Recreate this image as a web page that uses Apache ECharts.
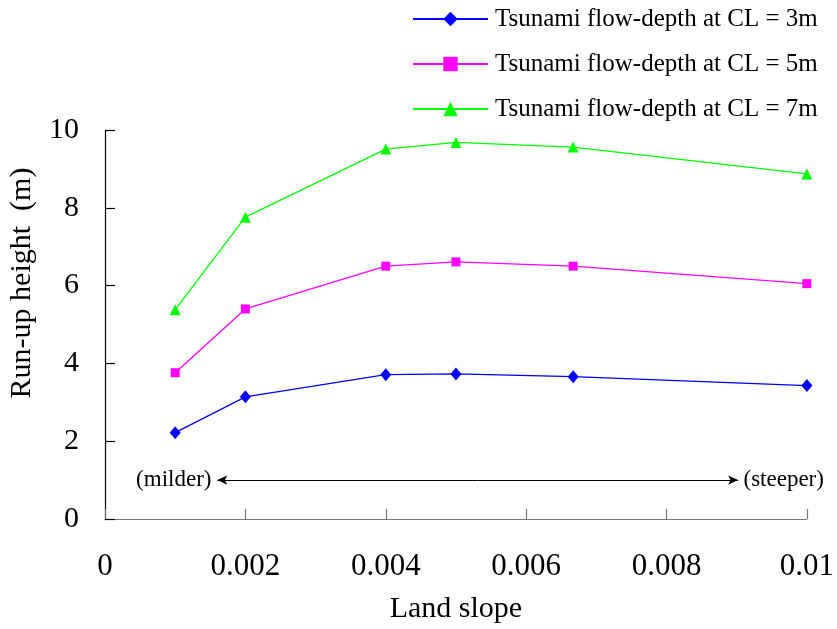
<!DOCTYPE html>
<html>
<head>
<meta charset="utf-8">
<script src="https://cdn.jsdelivr.net/npm/echarts@6/dist/echarts.min.js"></script>
<style>
html,body{margin:0;padding:0;background:#fff;}
#chart{width:837px;height:629px;}
</style>
</head>
<body>
<div id="chart"></div>
<script>
// ---- data ----
const slopes = [0.001, 0.002, 0.004, 0.005, 0.00667, 0.01];
const seriesNames = [
  'Tsunami flow-depth at CL = 3m',
  'Tsunami flow-depth at CL = 5m',
  'Tsunami flow-depth at CL = 7m'
];
const runup3m = [2.22, 3.14, 3.71, 3.73, 3.66, 3.43];
const runup5m = [3.76, 5.40, 6.50, 6.61, 6.50, 6.05];
const runup7m = [5.38, 7.76, 9.51, 9.68, 9.56, 8.87];
const xTickLabels = ['0', '0.002', '0.004', '0.006', '0.008', '0.01'];
const yTickLabels = ['0', '2', '4', '6', '8', '10'];
// annotation (data coordinates)
const arrowY = 1.0;
const arrowFrom = 0.0016;
const arrowTo = 0.00902;
const milderText = '(milder)';
const steeperText = '(steeper)';
const milderX = 0.00098;
const steeperX = 0.00967;

const FONT = '"Liberation Serif", "Times New Roman", serif';
const colors = ['#0000FF', '#FF00FF', '#00FF00'];
const symbols = ['diamond', 'rect', 'triangle'];
const symbolSizes = [[11, 13], 9, 11];
const values = [runup3m, runup5m, runup7m];

function pairs(ys) { return slopes.map((x, i) => [x, ys[i]]); }

const series = values.map((ys, k) => {
  const s = {
    name: seriesNames[k],
    type: 'line',
    data: pairs(ys),
    symbol: symbols[k],
    symbolSize: symbolSizes[k],
    showAllSymbol: true,
    lineStyle: { color: colors[k], width: 1.3 },
    itemStyle: { color: colors[k] },
    emphasis: { disabled: true },
    animation: false,
    z: 3
  };
  if (k === 0) {
    s.markLine = {
      silent: true,
      animation: false,
      symbol: ['arrow', 'arrow'],
      symbolSize: [7, 10],
      lineStyle: { color: '#000', width: 1, type: 'solid' },
      label: { show: false },
      data: [[{ coord: [arrowFrom, arrowY] }, { coord: [arrowTo, arrowY] }]]
    };
    s.markPoint = {
      silent: true,
      animation: false,
      symbol: 'circle',
      symbolSize: 0,
      itemStyle: { color: 'rgba(0,0,0,0)' },
      label: {
        show: true, position: 'inside', color: '#000',
        fontFamily: FONT, fontSize: 23
      },
      data: [
        { coord: [milderX, arrowY], label: { formatter: milderText } },
        { coord: [steeperX, arrowY], label: { formatter: steeperText } }
      ]
    };
  }
  return s;
});

const chart = echarts.init(document.getElementById('chart'), null, { renderer: 'canvas' });
chart.setOption({
  backgroundColor: '#fff',
  animation: false,
  grid: { left: 105, right: 27.7, top: 130, bottom: 108, containLabel: false },
  legend: {
    orient: 'vertical',
    left: 407,
    top: 0,
    itemWidth: 75,
    itemHeight: 18,
    itemGap: 17,
    selectedMode: false,
    textStyle: { color: '#000', fontFamily: FONT, fontSize: 25, lineHeight: 28, padding: [0, 0, 0, 2] },
    data: seriesNames
  },
  xAxis: {
    type: 'value',
    min: 0, max: 0.01, interval: 0.002,
    name: 'Land slope',
    nameLocation: 'middle',
    nameGap: 90,
    nameTextStyle: { color: '#000', fontFamily: FONT, fontSize: 30, verticalAlign: 'middle' },
    axisLine: { show: true, lineStyle: { color: '#777', width: 1.2 } },
    axisTick: { show: true, inside: true, length: 10, lineStyle: { color: '#777', width: 1.2 } },
    splitLine: { show: false },
    axisLabel: {
      color: '#000', fontFamily: FONT, fontSize: 31, margin: 32,
      formatter: (v, i) => xTickLabels[i]
    }
  },
  yAxis: {
    type: 'value',
    min: 0, max: 10, interval: 2,
    axisLine: { show: true, lineStyle: { color: '#000', width: 1.2 } },
    axisTick: { show: true, inside: true, length: 10, lineStyle: { color: '#000', width: 1.2 } },
    splitLine: { show: false },
    axisLabel: {
      color: '#000', fontFamily: FONT, fontSize: 30, margin: 26,
      formatter: (v, i) => yTickLabels[i]
    }
  },
  graphic: [{
    type: 'text',
    x: 22, y: 283,
    rotation: Math.PI / 2,
    style: {
      text: 'Run-up height  (m)',
      fill: '#000',
      font: '30px ' + FONT,
      textAlign: 'center',
      textVerticalAlign: 'middle'
    },
    silent: true
  }],
  series: series
});
</script>
</body>
</html>
